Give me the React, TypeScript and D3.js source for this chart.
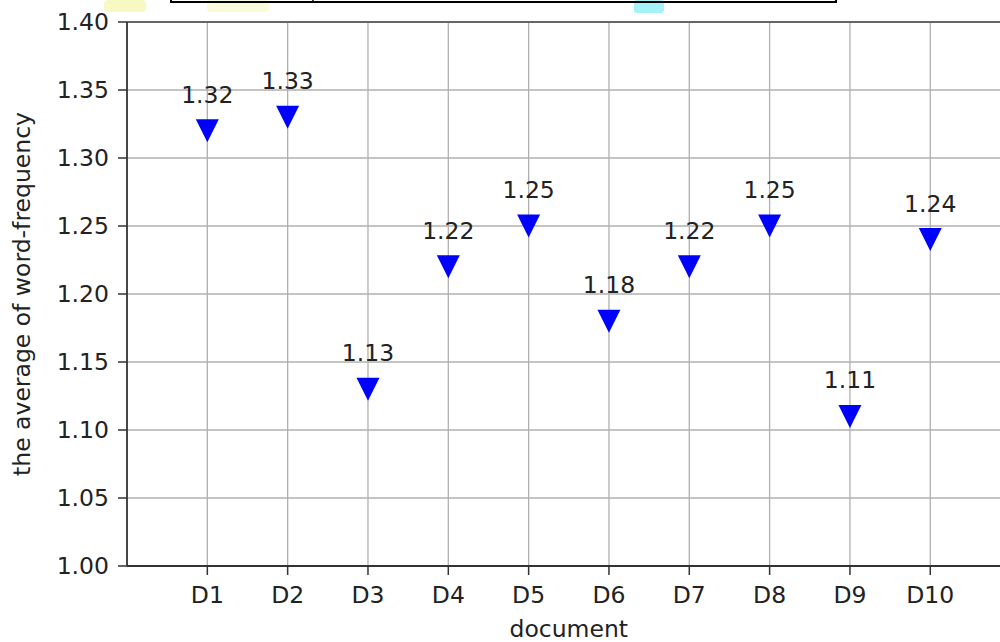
import React from "react";
import * as d3 from "d3";

const categories = ["D1", "D2", "D3", "D4", "D5", "D6", "D7", "D8", "D9", "D10"];
const values = [1.32, 1.33, 1.13, 1.22, 1.25, 1.18, 1.22, 1.25, 1.11, 1.24];
const yTicks = [1.0, 1.05, 1.1, 1.15, 1.2, 1.25, 1.3, 1.35, 1.4];

const W = 1000;
const H = 642;
const left = 127;
const top = 22;
const bottom = 566;
const right = 1010.6;

export default function App() {
  const x = d3.scaleLinear().domain([0, 11]).range([left, right]);
  const y = d3.scaleLinear().domain([1.0, 1.4]).range([bottom, top]);
  const font = "DejaVu Sans, sans-serif";
  const fs = 23.5;
  const s = 11.5;
  return (
    <svg width={W} height={H} style={{ position: "absolute", left: 0, top: 0 }}>
      <rect x={0} y={0} width={W} height={H} fill="#fff" />
      {/* faint artifacts at top */}
      <rect x={104} y={0} width={42} height={12} fill="#f4f7a8" opacity={0.7} rx={4} />
      <rect x={207} y={0} width={62} height={12} fill="#f8f9c8" opacity={0.7} rx={4} />
      <rect x={634} y={0} width={30} height={13} fill="#8ef0f8" opacity={0.8} rx={3} />
      {/* cropped box at top */}
      <line x1={171} x2={836} y1={2} y2={2} stroke="#000" strokeWidth={2} />
      <line x1={171} x2={171} y1={0} y2={3} stroke="#000" strokeWidth={2} />
      <line x1={313} x2={313} y1={0} y2={3} stroke="#000" strokeWidth={1.5} />
      <line x1={836} x2={836} y1={0} y2={3} stroke="#000" strokeWidth={2} />
      <g>
        {yTicks.map((t) => (
          <line key={"gy" + t} x1={left} x2={right} y1={y(t)} y2={y(t)} stroke="#b0b0b0" strokeWidth={1.3} />
        ))}
        {categories.map((c, i) => (
          <line key={"gx" + c} x1={x(i + 1)} x2={x(i + 1)} y1={top} y2={bottom} stroke="#b0b0b0" strokeWidth={1.3} />
        ))}
      </g>
      {/* spines */}
      <line x1={left} x2={right} y1={top} y2={top} stroke="#666" strokeWidth={2} />
      <line x1={left} x2={right} y1={bottom} y2={bottom} stroke="#333" strokeWidth={1.8} />
      <line x1={left} x2={left} y1={top} y2={bottom} stroke="#333" strokeWidth={1.8} />
      {/* y ticks */}
      {yTicks.map((t) => (
        <g key={"ty" + t}>
          <line x1={left - 9} x2={left} y1={y(t)} y2={y(t)} stroke="#333" strokeWidth={1.5} />
          <text x={109} y={y(t)} dy="0.36em" textAnchor="end" fontFamily={font} fontSize={fs} fill="#222">
            {d3.format(".2f")(t)}
          </text>
        </g>
      ))}
      {/* x ticks */}
      {categories.map((c, i) => (
        <g key={"tx" + c}>
          <line x1={x(i + 1)} x2={x(i + 1)} y1={bottom} y2={bottom + 9} stroke="#333" strokeWidth={1.5} />
          <text x={x(i + 1)} y={603} textAnchor="middle" fontFamily={font} fontSize={fs} fill="#222">
            {c}
          </text>
        </g>
      ))}
      {/* markers and labels */}
      {values.map((v, i) => (
        <g key={"m" + i}>
          <path
            d={`M${x(i + 1) - s},${y(v) - s}L${x(i + 1) + s},${y(v) - s}L${x(i + 1)},${y(v) + s}Z`}
            fill="#0000ff"
          />
          <text x={x(i + 1)} y={y(v) - 28} textAnchor="middle" fontFamily={font} fontSize={fs} fill="#222">
            {d3.format(".2f")(v)}
          </text>
        </g>
      ))}
      <text x={(left + right) / 2} y={637} textAnchor="middle" fontFamily={font} fontSize={fs} fill="#222">
        document
      </text>
      <text
        transform={`translate(30,${(top + bottom) / 2}) rotate(-90)`}
        textAnchor="middle"
        fontFamily={font}
        fontSize={fs}
        fill="#222"
      >
        the average of word-frequency
      </text>
    </svg>
  );
}
